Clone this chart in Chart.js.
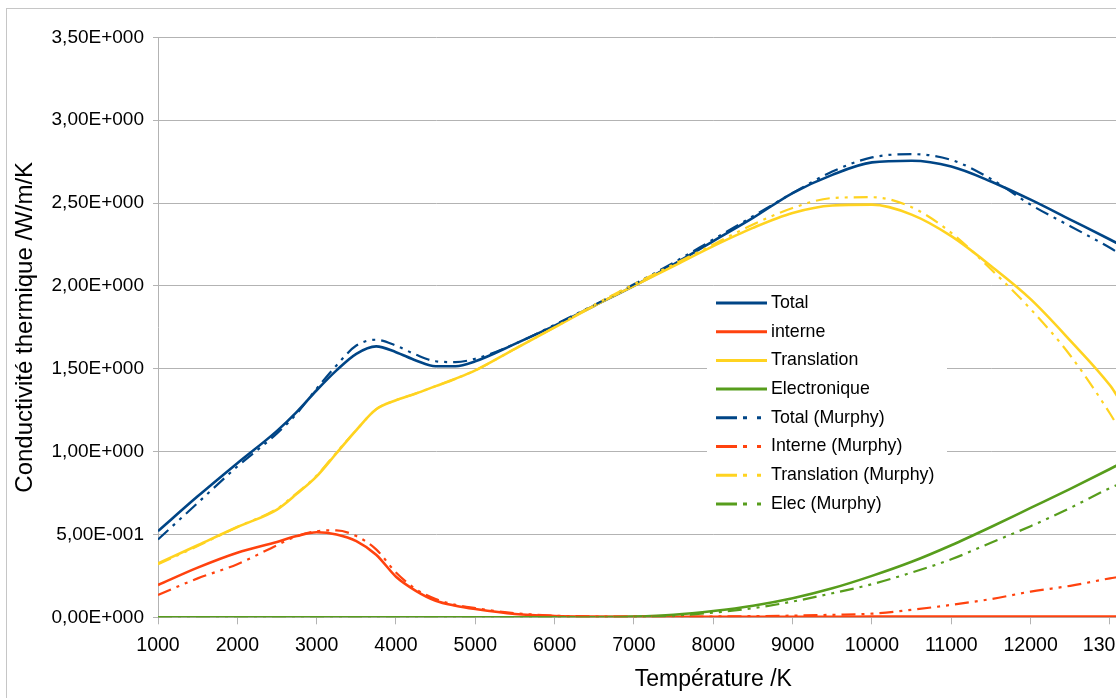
<!DOCTYPE html>
<html lang="fr">
<head>
<meta charset="UTF-8">
<title>Conductivité thermique</title>
<style>
    html, body { margin: 0; padding: 0; overflow: hidden; background: #fff; }
    #frame { position: absolute; left: 6px; top: 8px; width: 1300px; height: 720px; border: 1px solid #c6c6c6; }
    #frame canvas { position: absolute; left: 0; top: 0; }
</style>
</head>
<body>
<div id="frame"><canvas id="chart" width="1300" height="700"></canvas></div>
<script src="https://cdn.jsdelivr.net/npm/chart.js@4.4.0/dist/chart.umd.min.js"></script>
<script>
    // température (K)
    var temps = [1000, 1500, 2000, 2500, 2750, 3000, 3250, 3500, 3750, 4000, 4250, 4500, 4750, 5000,
        5500, 6000, 6500, 7000, 7500, 8000, 8500, 9000, 9500, 10000, 10500, 11000, 11500, 12000, 12500, 13000, 13100];

    // conductivité (W/m/K)
    var total = [0.52, 0.73, 0.93, 1.125, 1.24, 1.37, 1.49, 1.59, 1.635, 1.60, 1.55, 1.515, 1.515, 1.545,
        1.65, 1.76, 1.88, 2.00, 2.13, 2.27, 2.41, 2.56, 2.67, 2.745, 2.755, 2.72, 2.63, 2.52, 2.40, 2.28, 2.255];
    var interne = [0.195, 0.30, 0.39, 0.455, 0.49, 0.513, 0.50, 0.46, 0.378, 0.245, 0.16, 0.10, 0.07, 0.05,
        0.02, 0.008, 0.004, 0.003, 0.003, 0.003, 0.003, 0.003, 0.003, 0.004, 0.004, 0.004, 0.005, 0.005, 0.005, 0.005, 0.005];
    var translation = [0.325, 0.435, 0.545, 0.65, 0.745, 0.85, 0.99, 1.13, 1.255, 1.31, 1.35, 1.395, 1.44, 1.49,
        1.62, 1.75, 1.88, 2.00, 2.12, 2.24, 2.35, 2.44, 2.485, 2.49, 2.43, 2.30, 2.12, 1.92, 1.67, 1.40, 1.33];
    var electronique = [0, 0, 0, 0, 0, 0, 0, 0, 0, 0, 0, 0, 0, 0,
        0, 0, 0, 0.004, 0.015, 0.038, 0.07, 0.115, 0.175, 0.25, 0.335, 0.435, 0.545, 0.66, 0.775, 0.895, 0.92];

    var totalMurphy = [0.47, 0.69, 0.91, 1.11, 1.23, 1.38, 1.52, 1.64, 1.675, 1.64, 1.585, 1.545, 1.54, 1.56,
        1.65, 1.765, 1.885, 2.01, 2.14, 2.28, 2.42, 2.56, 2.69, 2.775, 2.795, 2.76, 2.645, 2.49, 2.36, 2.23, 2.20];
    var interneMurphy = [0.135, 0.235, 0.32, 0.435, 0.49, 0.52, 0.525, 0.49, 0.41, 0.27, 0.17, 0.11, 0.075, 0.055,
        0.025, 0.01, 0.005, 0.004, 0.004, 0.005, 0.007, 0.01, 0.015, 0.022, 0.045, 0.075, 0.11, 0.155, 0.19, 0.235, 0.243];
    var translationMurphy = [0.32, 0.43, 0.545, 0.655, 0.75, 0.855, 0.995, 1.13, 1.255, 1.31, 1.35, 1.395, 1.44, 1.49,
        1.62, 1.75, 1.885, 2.01, 2.13, 2.25, 2.37, 2.47, 2.53, 2.535, 2.475, 2.32, 2.10, 1.86, 1.58, 1.23, 1.15];
    var elecMurphy = [0, 0, 0, 0, 0, 0, 0, 0, 0, 0, 0, 0, 0, 0,
        0, 0, 0, 0.002, 0.01, 0.028, 0.055, 0.095, 0.145, 0.20, 0.27, 0.35, 0.45, 0.55, 0.66, 0.78, 0.80];

    var seriesNames = ["Total", "interne", "Translation", "Electronique",
        "Total (Murphy)", "Interne (Murphy)", "Translation (Murphy)", "Elec (Murphy)"];
    var seriesValues = [total, interne, translation, electronique,
        totalMurphy, interneMurphy, translationMurphy, elecMurphy];
    var seriesColors = ["#004586", "#ff420e", "#ffd320", "#579d1c",
        "#004586", "#ff420e", "#ffd320", "#579d1c"];

    var FONT = "'Liberation Sans', Arial, sans-serif";
    var plotDash = [14, 6, 3, 6, 3, 6];

    function sci(v) {
        if (v === 0) return "0,00E+000";
        var e = Math.floor(Math.log10(v) + 1e-9);
        var m = v / Math.pow(10, e);
        return m.toFixed(2).replace(".", ",") + "E" + (e < 0 ? "-" : "+") + String(Math.abs(e)).padStart(3, "0");
    }

    var datasets = [];
    for (var i = 0; i < seriesNames.length; i++) {
        var murphy = i >= 4;
        datasets.push({
            label: seriesNames[i],
            data: temps.map(function (t, k) { return {x: t, y: seriesValues[i][k]}; }),
            borderColor: seriesColors[i],
            backgroundColor: seriesColors[i],
            borderWidth: murphy ? 2.2 : 2.6,
            borderDash: murphy ? plotDash : [],
            pointRadius: 0,
            cubicInterpolationMode: "monotone",
            order: 10 - i
        });
    }

    // légende dans la zone du graphique, fond blanc
    var insideLegend = {
        id: "insideLegend",
        afterDraw: function (chart) {
            var ctx = chart.ctx;
            var left = 700, top = 279, w = 240, h = 232, step = 28.7;
            ctx.save();
            ctx.fillStyle = "#fff";
            ctx.fillRect(left, top, w, h);
            ctx.font = "17.8px " + FONT;
            ctx.textBaseline = "middle";
            ctx.textAlign = "left";
            chart.data.datasets.forEach(function (ds, i) {
                var y = top + 15 + i * step;
                ctx.strokeStyle = ds.borderColor;
                ctx.lineWidth = 3;
                ctx.setLineDash(ds.borderDash.length ? [21, 6, 4, 10, 4, 10] : []);
                ctx.beginPath();
                ctx.moveTo(left + 9, y);
                ctx.lineTo(left + 60, y);
                ctx.stroke();
                ctx.fillStyle = "#000";
                ctx.fillText(ds.label, left + 64, y);
            });
            ctx.restore();
        }
    };

    new Chart(document.getElementById("chart"), {
        type: "line",
        data: {datasets: datasets},
        options: {
            responsive: false,
            animation: false,
            layout: {padding: {left: 0, top: 28.3, right: 38.4, bottom: 0}},
            plugins: {legend: {display: false}, tooltip: {enabled: false}},
            scales: {
                x: {
                    type: "linear",
                    min: 1000,
                    max: 15000,
                    grid: {drawOnChartArea: false, drawTicks: true, tickLength: 7, color: "#b3b3b3"},
                    border: {color: "#b3b3b3"},
                    ticks: {stepSize: 1000, color: "#000", padding: 10, font: {family: FONT, size: 19.5},
                        maxRotation: 0, autoSkip: false,
                        callback: function (v) { return String(v); }},
                    title: {display: true, text: "Température /K", color: "#000",
                        font: {family: FONT, size: 23}, padding: {top: 0, bottom: 16}},
                    afterFit: function (s) { s.height = 91.7; }
                },
                y: {
                    min: 0,
                    max: 3.5,
                    grid: {color: "#b3b3b3", tickLength: 5},
                    border: {color: "#b3b3b3"},
                    ticks: {stepSize: 0.5, color: "#000", padding: 9, font: {family: FONT, size: 19},
                        callback: function (v) { return sci(v); }},
                    title: {display: true, text: "Conductivité thermique /W/m/K", color: "#000",
                        font: {family: FONT, size: 24}, padding: {top: 4, bottom: 0}},
                    afterFit: function (s) { s.width = 151; }
                }
            }
        },
        plugins: [insideLegend]
    });
</script>
</body>
</html>
